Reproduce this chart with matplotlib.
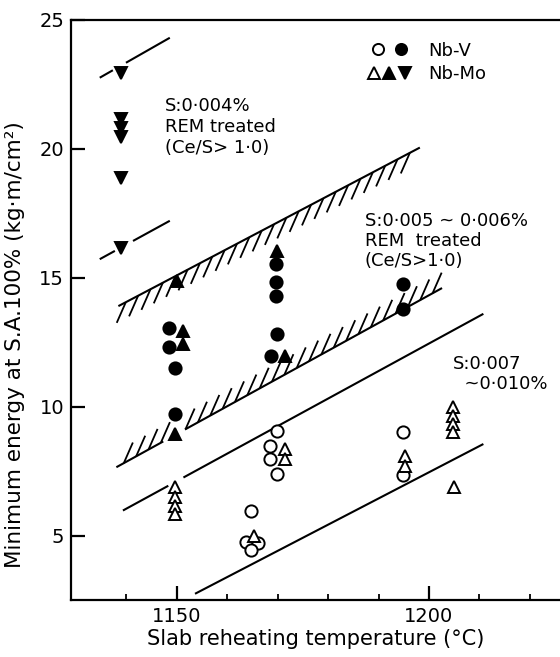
import numpy as np
import matplotlib.pyplot as plt
from matplotlib.collections import LineCollection
from matplotlib.legend_handler import HandlerTuple
from matplotlib.lines import Line2D

# Nb-V  (open: S 0.007-0.010 %, filled: REM treated)
nbv_open_x = [1169.8, 1168.5, 1168.5, 1169.8, 1164.8, 1163.8, 1166.1, 1164.8, 1194.9, 1194.9]
nbv_open_y = [9.04, 8.49, 7.97, 7.39, 5.97, 4.74, 4.70, 4.42, 9.00, 7.36]
nbv_fill_x = [1148.5, 1148.5, 1149.6, 1149.6, 1169.6, 1169.6, 1169.6, 1169.8, 1168.6, 1194.9, 1194.9]
nbv_fill_y = [13.07, 12.33, 11.50, 9.72, 15.53, 14.82, 14.30, 12.82, 11.98, 14.76, 13.79]

# Nb-Mo
nbmo_open_x = [1149.6, 1149.6, 1149.6, 1149.6, 1171.4, 1171.4, 1165.3,
               1195.2, 1195.2, 1204.8, 1204.8, 1204.8, 1204.8, 1204.9]
nbmo_open_y = [6.87, 6.49, 6.16, 5.84, 8.36, 7.97, 5.00,
               8.10, 7.71, 9.97, 9.65, 9.33, 9.00, 6.90]
nbmo_fill_x = [1150.0, 1151.2, 1151.2, 1149.6, 1169.8, 1171.4]
nbmo_fill_y = [14.86, 12.92, 12.43, 8.94, 16.05, 11.98]
nbmo_down_x = [1139.0, 1139.0, 1139.0, 1139.0, 1139.0, 1139.0]
nbmo_down_y = [22.96, 21.15, 20.80, 20.45, 18.86, 16.17]

# guide lines (x0, y0, x1, y1) and gaps left around the markers
band_upper = (1138.4, 13.90, 1198.2, 20.05)
band_lower = (1138.0, 7.65, 1202.6, 14.60)
line_mid = (1139.3, 5.97, 1210.8, 13.60)
line_low = (1153.6, 2.74, 1210.8, 8.55)
dash_top = (1134.7, 22.76, 1148.6, 24.31)
dash_bot = (1134.7, 15.72, 1148.6, 17.21)
gap_band_lower = (1147.3, 1151.6)
gap_mid = (1148.3, 1151.3)
gap_dash_top = (1137.3, 1139.9)
gap_dash_bot = (1137.7, 1141.3)

x_major = [1150, 1200]
x_minor = [1140, 1160, 1170, 1180, 1190, 1210, 1220]
y_major = [5, 10, 15, 20, 25]


def guide(ax, line, gap=None, lw=1.5):
    x0, y0, x1, y1 = line
    xs = [x0, x1] if gap is None else [x0, gap[0], np.nan, gap[1], x1]
    xs = np.array(xs, float)
    ys = np.interp(xs, [x0, x1], [y0, y1])
    ax.plot(xs, ys, color="k", lw=lw, solid_capstyle="butt")


def hatch(ax, line, dx, dy, step=2.45, skip=None):
    x0, y0, x1, y1 = line
    xs = np.arange(x0 + step * 0.6, x1, step)
    if skip is not None:
        xs = xs[(xs < skip[0]) | (xs > skip[1])]
    ys = np.interp(xs, [x0, x1], [y0, y1])
    segs = [[(x, y), (x + dx, y + dy)] for x, y in zip(xs, ys)]
    ax.add_collection(LineCollection(segs, colors="k", lw=1.3))


fig = plt.figure(figsize=(5.6, 6.57), dpi=100)
ax = fig.add_axes([0.1268, 0.0868, 0.8732, 0.8828])

# lines and hatched bands
guide(ax, band_upper)
hatch(ax, band_upper, -1.8, -0.8)
guide(ax, band_lower, gap_band_lower)
hatch(ax, band_lower, 1.8, 0.8, skip=gap_band_lower)
guide(ax, line_mid, gap_mid)
guide(ax, line_low)
guide(ax, dash_top, gap_dash_top)
guide(ax, dash_bot, gap_dash_bot)

ms_c, ms_t, mew = 8.8, 9.2, 1.4
ax.plot(nbv_open_x, nbv_open_y, "o", ms=ms_c, mfc="white", mec="k", mew=mew)
ax.plot(nbv_fill_x, nbv_fill_y, "o", ms=ms_c, mfc="k", mec="k", mew=mew)
ax.plot(nbmo_open_x, nbmo_open_y, "^", ms=ms_t, mfc="white", mec="k", mew=mew)
ax.plot(nbmo_fill_x, nbmo_fill_y, "^", ms=ms_t, mfc="k", mec="k", mew=mew)
ax.plot(nbmo_down_x, nbmo_down_y, "v", ms=ms_t, mfc="k", mec="k", mew=mew)

# annotations
fs = 13
ax.text(1147.6, 22.0, "S:0·004%\nREM treated\n(Ce/S> 1·0)", fontsize=fs,
        va="top", ha="left", linespacing=1.2)
ax.text(1187.3, 17.55, "S:0·005 ~ 0·006%\nREM  treated\n(Ce/S>1·0)", fontsize=fs,
        va="top", ha="left", linespacing=1.15)
ax.text(1204.8, 12.0, "S:0·007\n  ~0·010%", fontsize=fs,
        va="top", ha="left", linespacing=1.15)

# legend
h_v = (Line2D([], [], marker="o", ls="", ms=8, mfc="white", mec="k", mew=mew),
       Line2D([], [], marker="o", ls="", ms=8, mfc="k", mec="k", mew=mew))
h_mo = (Line2D([], [], marker="^", ls="", ms=8, mfc="white", mec="k", mew=mew),
        Line2D([], [], marker="^", ls="", ms=8, mfc="k", mec="k", mew=mew),
        Line2D([], [], marker="v", ls="", ms=8, mfc="k", mec="k", mew=mew))
ax.legend([h_v, h_mo], ["Nb-V", "Nb-Mo"],
          handler_map={tuple: HandlerTuple(ndivide=None, pad=0.05)},
          loc="upper left", bbox_to_anchor=(0.59, 0.975), frameon=False,
          fontsize=fs, handlelength=2.5, handletextpad=0.9, labelspacing=0.3,
          borderaxespad=0)

ax.set_xlim(1129, 1226)
ax.set_ylim(2.5, 25)
ax.set_xticks(x_major)
ax.set_xticks(x_minor, minor=True)
ax.set_yticks(y_major)
ax.tick_params(axis="both", which="major", direction="in", length=10, width=1.6,
               labelsize=14)
ax.tick_params(axis="x", which="minor", direction="in", length=4, width=1.3)
ax.tick_params(axis="x", which="major", pad=5)
ax.tick_params(axis="y", which="major", pad=5)
ax.spines["right"].set_visible(False)
for s in ["left", "bottom", "top"]:
    ax.spines[s].set_linewidth(1.6)

ax.set_xlabel("Slab reheating temperature (°C)", fontsize=15)
ax.set_ylabel("Minimum energy at S.A.100% (kg·m/cm²)", fontsize=15.5)
ax.xaxis.set_label_coords(0.5, -0.05)
ax.yaxis.set_label_coords(-0.095, 0.44)

fig.savefig("out.png", dpi=100)
